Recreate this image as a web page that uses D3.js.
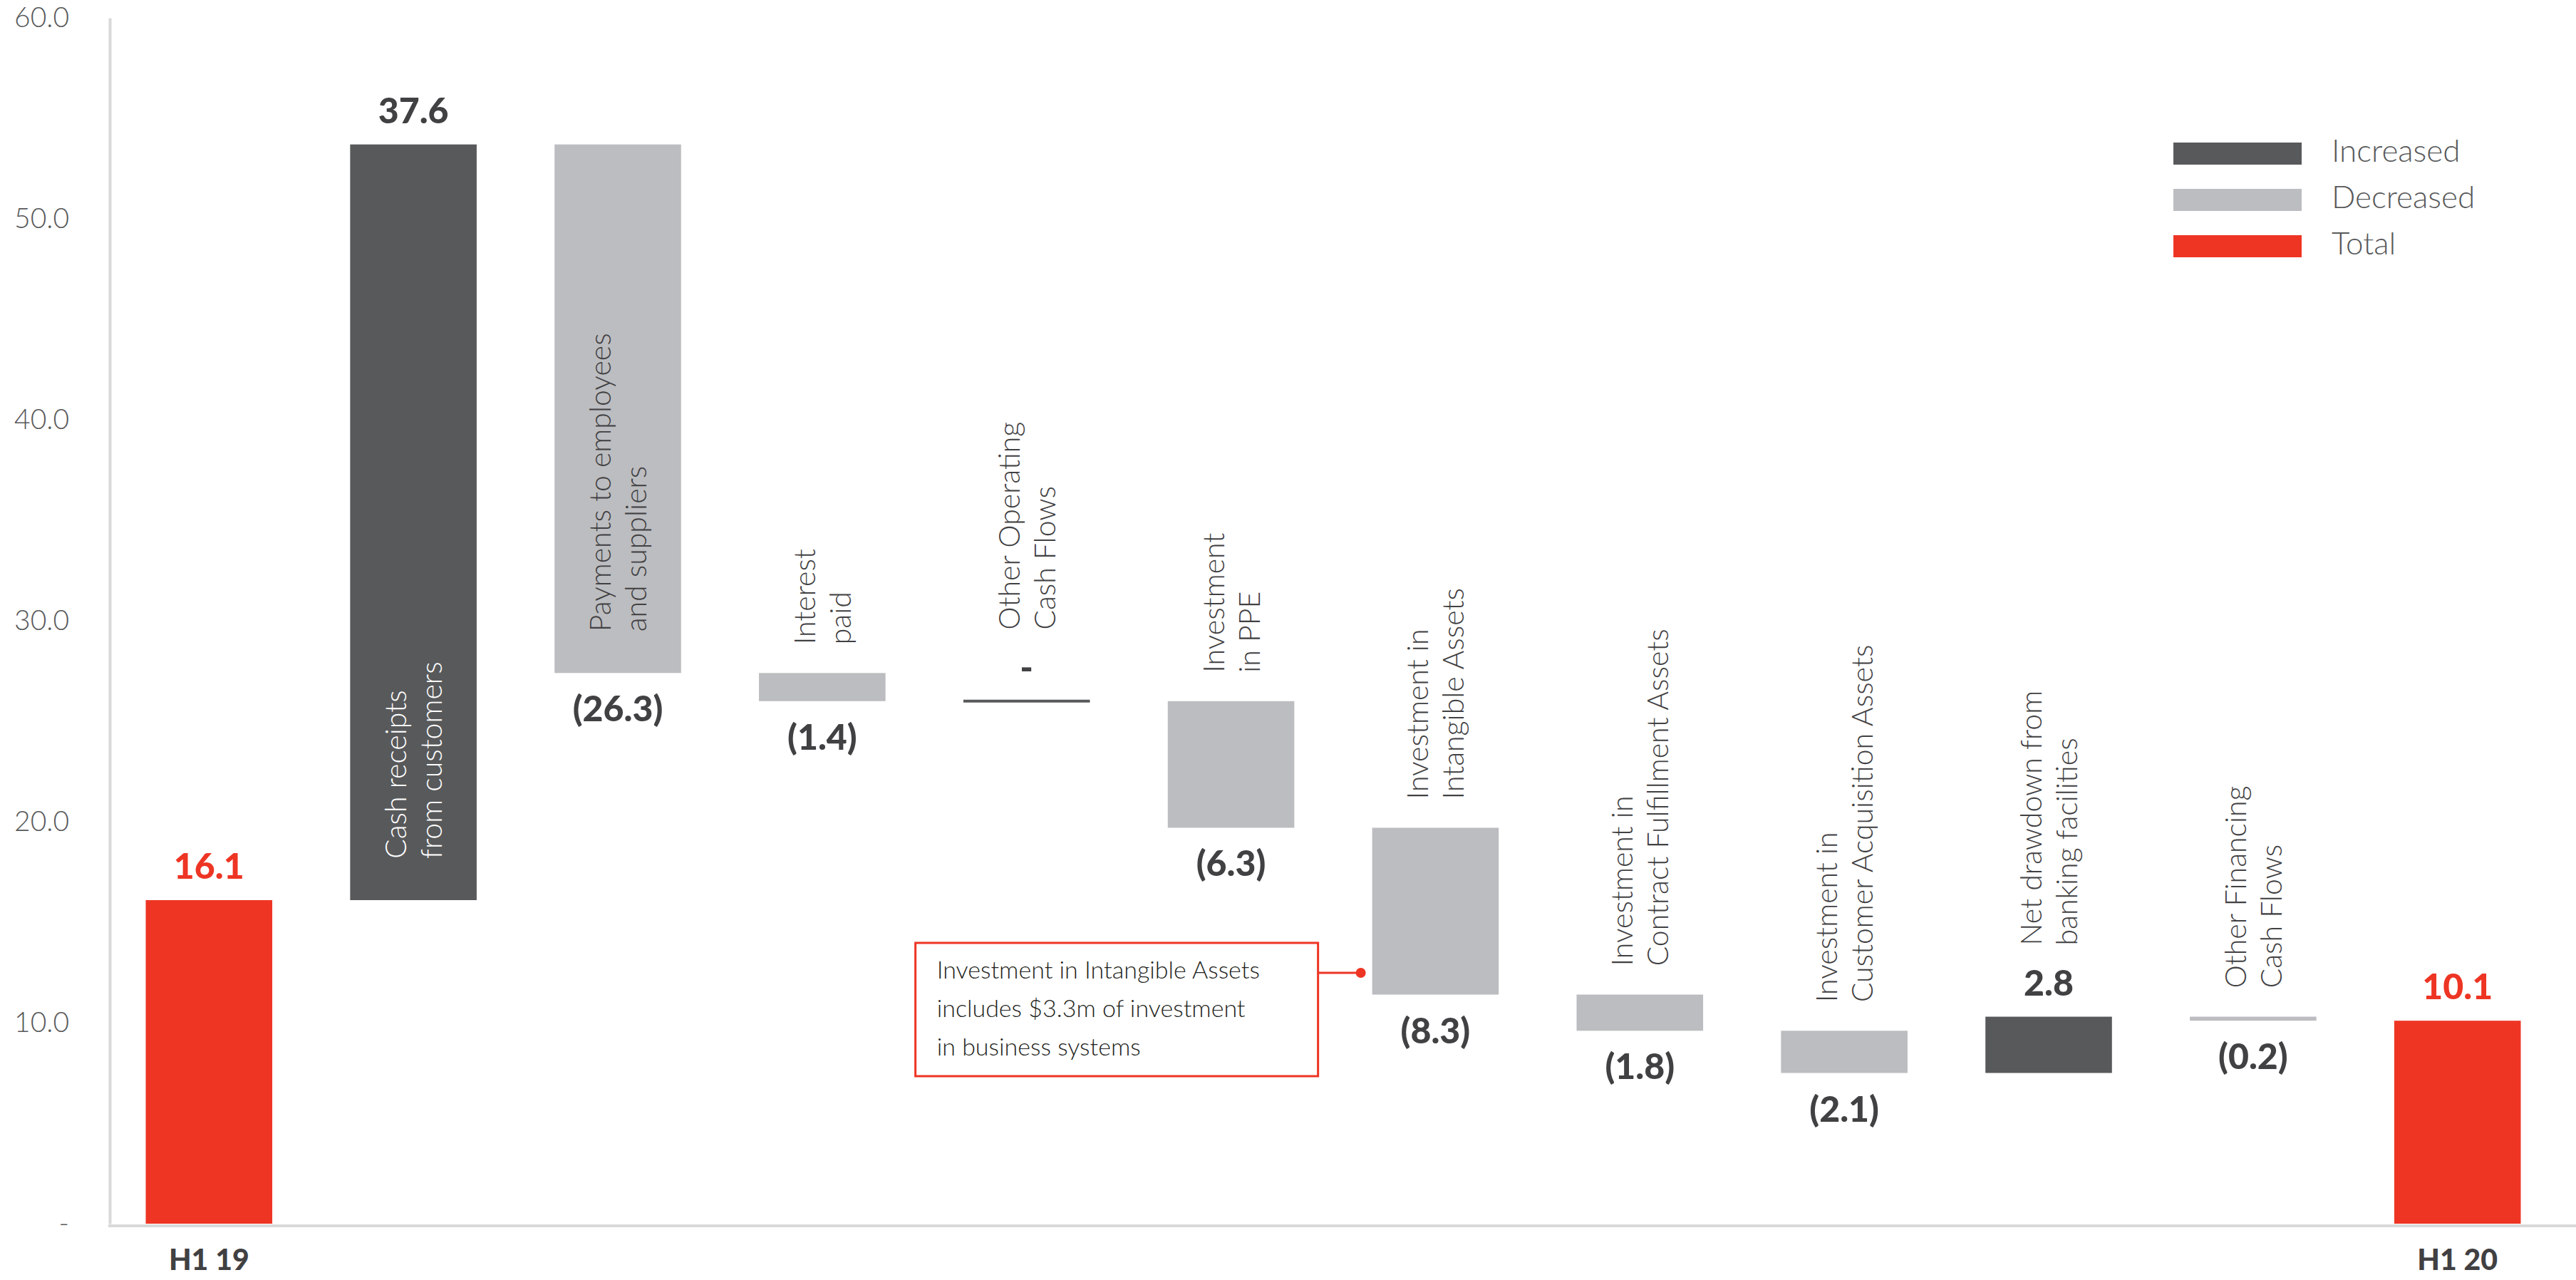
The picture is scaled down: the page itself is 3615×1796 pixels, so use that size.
<!DOCTYPE html>
<html>
<head>
<meta charset="utf-8">
<script src="https://cdn.jsdelivr.net/npm/d3@7"></script>
<style>
  html, body { margin: 0; padding: 0; background: #ffffff; }
  svg { display: block; }
</style>
</head>
<body>
<script>
// Cash flow bridge, H1 19 to H1 20 ($m)
const categories = [
  "H1 19", "Cash receipts", "Payments", "Interest paid", "Other Operating",
  "Investment PPE", "Investment Intangible", "Investment Contract",
  "Investment Customer", "Net drawdown", "Other Financing", "H1 20"
];
const labelLines = [
  [],
  ["Cash receipts", "from customers"],
  ["Payments to employees", "and suppliers"],
  ["Interest", "paid"],
  ["Other Operating", "Cash Flows"],
  ["Investment", "in PPE"],
  ["Investment in", "Intangible Assets"],
  ["Investment in", "Contract Fulfillment Assets"],
  ["Investment in", "Customer Acquisition Assets"],
  ["Net drawdown from", "banking facilities"],
  ["Other Financing", "Cash Flows"],
  []
];
const values = [16.1, 37.6, -26.3, -1.4, 0, -6.3, -8.3, -1.8, -2.1, 2.8, -0.2, 10.1];
const kinds = ["total", "increase", "decrease", "decrease", "flat", "decrease",
               "decrease", "decrease", "decrease", "increase", "decrease", "total"];
const axisLabels = ["H1 19", "H1 20"];
const yTicks = [0, 10, 20, 30, 40, 50, 60];
const legendItems = ["Increased", "Decreased", "Total"];
const legendKinds = ["increase", "decrease", "total"];
const noteLines = [
  "Investment in Intangible Assets",
  "includes $3.3m of investment",
  "in business systems"
];

const W = 3615, H = 1796;
const colors = { increase: "#58595b", decrease: "#bcbdc0", total: "#ee3524", flat: "#58595b" };
const textDark = "#414042";
const lightFont = "Lato, 'Open Sans', sans-serif";

// running totals for the bridge
let running = 0;
const bars = categories.map((c, i) => {
  let start, end;
  if (kinds[i] === "total") { start = 0; end = values[i]; running = values[i]; }
  else { start = running; end = running + values[i]; running = end; }
  return { cat: c, i, v: values[i], kind: kinds[i], start, end,
           lo: Math.min(start, end), hi: Math.max(start, end), lines: labelLines[i] };
});

const svg = d3.select("body").append("svg").attr("width", W).attr("height", H);
svg.append("rect").attr("width", W).attr("height", H).attr("fill", "#fff");

const x = d3.scaleBand().domain(categories).range([150, 3592])
  .paddingInner(0.381).paddingOuter(0.19);
const y = d3.scaleLinear().domain([0, 60]).range([1717, 25]);
const axisX = 154;

// y axis
const yAxis = svg.append("g").attr("transform", `translate(${axisX},0)`)
  .call(d3.axisLeft(y).tickValues(yTicks).tickSize(0).tickPadding(57)
    .tickFormat(d => d === 0 ? "-" : d3.format(".1f")(d)));
yAxis.select(".domain").attr("stroke", "#d9d9d9").attr("stroke-width", 4);
yAxis.selectAll("text").attr("font-family", lightFont).attr("font-weight", 300)
  .attr("font-size", 39).attr("fill", "#58595b");

// baseline
svg.append("line").attr("x1", axisX - 2).attr("x2", W).attr("y1", y(0) + 3).attr("y2", y(0) + 3)
  .attr("stroke", "#d9d9d9").attr("stroke-width", 4);

// x axis labels (totals only)
const xAxis = svg.append("g").attr("transform", `translate(0,${y(0)})`)
  .call(d3.axisBottom(x).tickValues(axisLabels).tickSize(0).tickPadding(36));
xAxis.select(".domain").remove();
xAxis.selectAll("text").attr("font-family", lightFont).attr("font-weight", 900)
  .attr("font-size", 41).attr("fill", textDark);

// bars
const bw = x.bandwidth();
svg.append("g").selectAll("rect").data(bars.filter(d => d.kind !== "flat")).join("rect")
  .attr("x", d => x(d.cat)).attr("width", bw)
  .attr("y", d => y(d.hi)).attr("height", d => y(d.lo) - y(d.hi))
  .attr("fill", d => colors[d.kind]);

// zero movement drawn as a rule
svg.append("g").selectAll("line").data(bars.filter(d => d.kind === "flat")).join("line")
  .attr("x1", d => x(d.cat)).attr("x2", d => x(d.cat) + bw)
  .attr("y1", d => y(d.end)).attr("y2", d => y(d.end))
  .attr("stroke", colors.flat).attr("stroke-width", 4);

// value labels
const fmt = v => v > 0 ? d3.format(".1f")(v) : v < 0 ? `(${d3.format(".1f")(-v)})` : "-";
svg.append("g").selectAll("text").data(bars).join("text")
  .attr("x", d => x(d.cat) + bw / 2)
  .attr("y", d => d.v < 0 ? y(d.lo) + 68 : y(d.hi) - 30)
  .attr("text-anchor", "middle")
  .attr("font-family", lightFont).attr("font-weight", 900).attr("font-size", 50)
  .attr("fill", d => d.kind === "total" ? colors.total : textDark)
  .text(d => fmt(d.v));

// rotated category labels
const inside = d => Math.abs(d.v) > 20;
const labelG = svg.append("g").selectAll("text").data(bars.filter(d => d.lines.length)).join("text")
  .attr("transform", d => {
    const cx = x(d.cat) + bw / 2;
    let yy;
    if (inside(d)) yy = y(d.lo) - 58;
    else if (d.v < 0) yy = y(d.hi) - 40;
    else yy = y(d.hi) - 100;
    return `translate(${cx},${yy}) rotate(-90)`;
  })
  .attr("text-anchor", "start")
  .attr("font-family", lightFont).attr("font-weight", 300).attr("font-size", 41)
  .attr("fill", d => inside(d) && d.kind === "increase" ? "#ffffff" : textDark);
labelG.selectAll("tspan").data(d => d.lines).join("tspan")
  .attr("x", 0).attr("y", (t, k) => k === 0 ? -10 : 40)
  .text(t => t);

// legend
const lg = svg.append("g").attr("transform", "translate(3050,200)");
const li = lg.selectAll("g").data(legendItems).join("g")
  .attr("transform", (d, i) => `translate(0,${i * 65})`);
li.append("rect").attr("width", 180).attr("height", 31)
  .attr("fill", (d, i) => colors[legendKinds[i]]);
li.append("text").attr("x", 222).attr("y", 16).attr("dominant-baseline", "middle")
  .attr("font-family", lightFont).attr("font-weight", 300).attr("font-size", 44)
  .attr("fill", "#58595b").text(d => d);

// note on intangible assets
const target = bars[6];
const dotX = x(target.cat) - 16, dotY = 1365;
const boxR = dotX - 60, boxW = 565, boxT = 1323, boxH = 187;
svg.append("rect").attr("x", boxR - boxW).attr("y", boxT).attr("width", boxW).attr("height", boxH)
  .attr("fill", "#fff").attr("stroke", colors.total).attr("stroke-width", 3);
svg.append("line").attr("x1", boxR).attr("x2", dotX).attr("y1", dotY).attr("y2", dotY)
  .attr("stroke", colors.total).attr("stroke-width", 3);
svg.append("circle").attr("cx", dotX).attr("cy", dotY).attr("r", 7).attr("fill", colors.total);
svg.append("g").selectAll("text").data(noteLines).join("text")
  .attr("x", boxR - boxW + 30).attr("y", (d, i) => 1373 + i * 54)
  .attr("font-family", lightFont).attr("font-weight", 300).attr("font-size", 34)
  .attr("fill", "#231f20").text(d => d);
</script>
</body>
</html>
